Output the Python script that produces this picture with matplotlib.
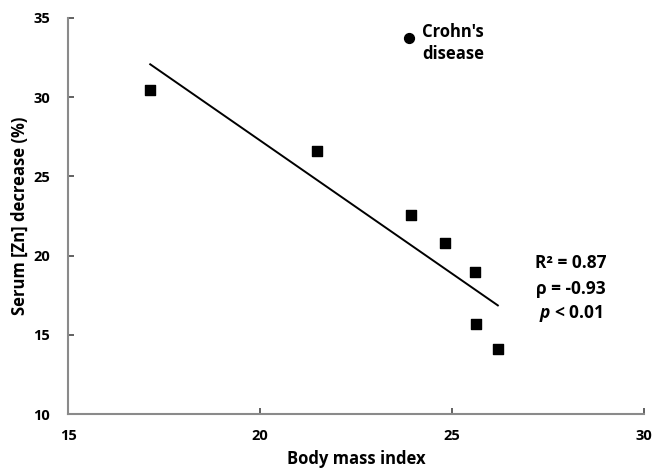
import matplotlib
matplotlib.use('Agg')
import matplotlib.pyplot as plt
import numpy as np

plt.rcParams['font.family'] = ['Open Sans', 'DejaVu Sans']
plt.rcParams['font.weight'] = 'bold'
plt.rcParams['mathtext.fontset'] = 'custom'
plt.rcParams['mathtext.it'] = 'Open Sans:italic:bold'
plt.rcParams['mathtext.rm'] = 'Open Sans:bold'

# body mass index vs serum zinc decrease
bmi = [17.14, 21.49, 23.93, 24.82, 25.60, 25.62, 26.19]
zn_decrease = [30.45, 26.60, 22.56, 20.80, 18.98, 15.68, 14.10]
crohn_bmi = [23.88]
crohn_zn = [33.72]

fig = plt.figure(figsize=(6.54, 4.69), dpi=100)
ax = fig.add_axes([0.104, 0.117, 0.881, 0.845])

ax.scatter(bmi, zn_decrease, marker='s', s=55, c='black', zorder=3)
ax.scatter(crohn_bmi, crohn_zn, marker='o', s=50, c='black', zorder=3)

# linear fit over the squares
k, b = np.polyfit(bmi, zn_decrease, 1)
xs = np.array([min(bmi), max(bmi)])
ax.plot(xs, k * xs + b, color='black', lw=1.4)

ax.text(24.21, 33.42, "Crohn's\ndisease", ha='left', va='center', fontsize=12,
        fontweight='bold', linespacing=1.3)
ax.text(28.1, 19.55, 'R² = 0.87', ha='center', va='center', fontsize=12.5, fontweight='bold')
ax.text(28.1, 17.9, 'ρ = -0.93', ha='center', va='center', fontsize=12.5, fontweight='bold')
ax.text(28.1, 16.35, r'$p$ < 0.01', ha='center', va='center', fontsize=12.5, fontweight='bold')

ax.set_xlim(15, 30)
ax.set_ylim(10, 35)
ax.set_xticks([15, 20, 25, 30])
ax.set_yticks([10, 15, 20, 25, 30, 35])
ax.tick_params(direction='in', length=4, width=1.3, color='#555555', labelsize=10.5)
ax.tick_params(axis='x', pad=11)
ax.tick_params(axis='y', pad=13)
for lab in ax.get_xticklabels() + ax.get_yticklabels():
    lab.set_fontweight('bold')
for s in ['top', 'right']:
    ax.spines[s].set_visible(False)
for s in ['left', 'bottom']:
    ax.spines[s].set_color('#8a8a8a')
    ax.spines[s].set_linewidth(1.5)

ax.set_xlabel('Body mass index', fontsize=12, fontweight='bold', labelpad=5)
ax.set_ylabel('Serum [Zn] decrease (%)', fontsize=12, fontweight='bold', labelpad=3)

fig.savefig('out.png', dpi=100)
